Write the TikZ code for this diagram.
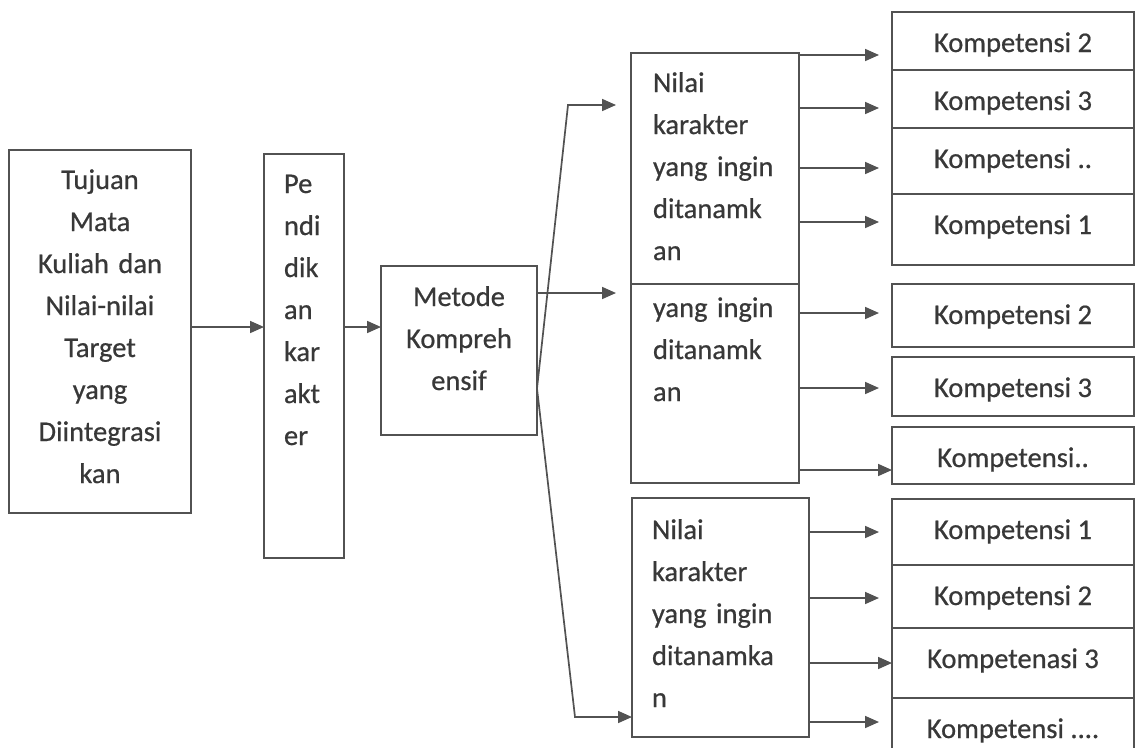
\documentclass[tikz,border=0pt]{standalone}
\usepackage{fontspec}
\setmainfont{Carlito}[FakeBold=0.6]
\usepackage{tikz}
\usetikzlibrary{arrows.meta,positioning}

\begin{document}
\begin{tikzpicture}
  [
  x=1pt,y=-1pt,
  box/.style={draw=black!68,line width=1.7pt,inner ysep=0pt,outer sep=0pt,anchor=north west,
    text=black!78,font=\fontsize{28.5pt}{42pt}\selectfont,text height=39pt},
  colbox/.style={box,inner xsep=20pt,align=left},
  kbox/.style={box,minimum width=242pt,inner xsep=0pt,text height=40pt},
  flow/.style={-{Triangle[length=14pt,width=12pt]},draw=black!68,line width=1.7pt},
  gap/.style={shorten >=13pt}
  ]
  \useasboundingbox (0,0) rectangle (1142,747);
  \clip (0,0) rectangle (1142,747);
  % left column
  \node[box,inner xsep=10pt,text width=162pt,align=center,text depth=324pt] (tujuan) at (9,150)
    {Tujuan\\Mata\\Kuliah dan\\Nilai-nilai\\Target\\yang\\Diintegrasi\\kan};
  \node[colbox,text width=40pt,text depth=365pt] (pendidikan) at (264,154)
    {Pe\\ndi\\dik\\an\\kar\\akt\\er};
  \node[box,inner xsep=10pt,text width=136pt,align=center,text height=40pt,text depth=129pt] (metode) at (381,266)
    {Metode\\Kompreh\\ensif};
  % nilai karakter
  \node[colbox,inner xsep=22pt,text width=124pt,text depth=192pt] (nilai1) at (631,53)
    {Nilai\\karakter\\yang ingin\\ditanamk\\an};
  \node[colbox,inner xsep=22pt,text width=124pt,text height=33pt,text depth=166pt,below=0pt of nilai1] (nilai2)
    {yang ingin\\ditanamk\\an};
  \node[colbox,text width=137pt,text height=41pt,text depth=198pt] (nilai3) at (632,498)
    {Nilai\\karakter\\yang ingin\\ditanamka\\n};
  % kompetensi
  \node[kbox,text depth=18pt] (k11) at (892,12) {Kompetensi 2};
  \node[kbox,text depth=18pt,below=0pt of k11] (k12) {Kompetensi 3};
  \node[kbox,text depth=26pt,below=0pt of k12] (k13) {Kompetensi ..};
  \node[kbox,text depth=31pt,below=0pt of k13] (k14) {Kompetensi 1};
  \node[kbox,text depth=23pt,below=19pt of k14] (k21) {Kompetensi 2};
  \node[kbox,text depth=19pt,below=10pt of k21] (k22) {Kompetensi 3};
  \node[kbox,text depth=17pt,below=11pt of k22] (k23) {Kompetensi..};
  \node[kbox,text depth=26pt,below=15pt of k23] (k31) {Kompetensi 1};
  \node[kbox,text depth=23pt,below=0pt of k31] (k32) {Kompetensi 2};
  \node[kbox,text depth=30pt,below=0pt of k32] (k33) {Kompetenasi 3};
  \node[kbox,text depth=30pt,below=0pt of k33] (k34) {Kompetensi ....};
  % flow
  \draw[flow] ([yshift=4.5pt]tujuan.east) -- ([yshift=4.5pt]tujuan.east -| pendidikan.west);
  \draw[flow] ([yshift=29pt]pendidikan.east) -- ([yshift=29pt]pendidikan.east -| metode.west);
  \coordinate (split) at ([yshift=-38pt]metode.east);
  \draw[flow,shorten >=15pt] (split) -- ([xshift=-63pt,yshift=63.5pt]nilai1.west) -- ([yshift=63.5pt]nilai1.west);
  \draw[flow,shorten >=15pt] ([yshift=57.5pt]metode.east) -- ([yshift=57.5pt]metode.east -| nilai2.west);
  \draw[flow] (split) -- ([xshift=-57pt,yshift=-99.5pt]nilai3.west) -- ([yshift=-99.5pt]nilai3.west);
  % to kompetensi
  \draw[flow,gap] ([yshift=-14pt]k11.west -| nilai1.east) -- ([yshift=-14pt]k11.west);
  \draw[flow,gap] ([yshift=-9pt]k12.west -| nilai1.east) -- ([yshift=-9pt]k12.west);
  \draw[flow,gap] ([yshift=-7pt]k13.west -| nilai1.east) -- ([yshift=-7pt]k13.west);
  \draw[flow,gap] ([yshift=7.5pt]k14.west -| nilai1.east) -- ([yshift=7.5pt]k14.west);
  \draw[flow,gap] ([yshift=2.5pt]k21.west -| nilai2.east) -- ([yshift=2.5pt]k21.west);
  \draw[flow,gap] ([yshift=-1.5pt]k22.west -| nilai2.east) -- ([yshift=-1.5pt]k22.west);
  \draw[flow] ([yshift=-14.5pt]k23.west -| nilai2.east) -- ([yshift=-14.5pt]k23.west);
  \draw[flow,gap] (k31.west -| nilai3.east) -- (k31.west);
  \draw[flow,gap] ([yshift=-1.5pt]k32.west -| nilai3.east) -- ([yshift=-1.5pt]k32.west);
  \draw[flow] (k33.west -| nilai3.east) -- (k33.west);
  \draw[flow,gap] ([yshift=11pt]k34.west -| nilai3.east) -- ([yshift=11pt]k34.west);
\end{tikzpicture}
\end{document}
